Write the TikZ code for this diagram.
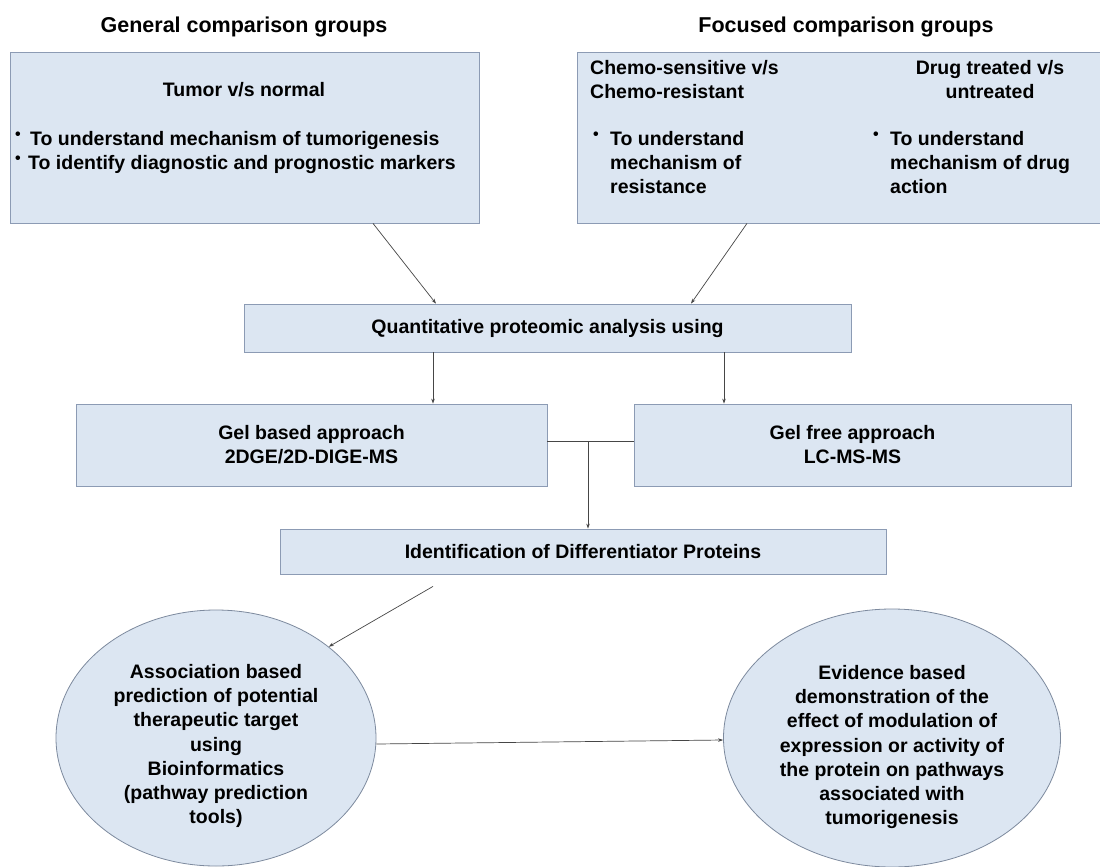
\documentclass[tikz,border=0pt]{standalone}
\usepackage{fontspec}
\setmainfont{Liberation Sans}
\usetikzlibrary{shapes.geometric,arrows.meta,calc}
\definecolor{boxfill}{RGB}{220,230,242}
\definecolor{boxline}{RGB}{140,155,180}
\definecolor{ellline}{RGB}{125,138,158}
\definecolor{lineclr}{RGB}{70,70,70}
\newcommand\mytxt{\fontsize{19.5}{24}\selectfont\bfseries}
\newcommand\myelltxt{\fontsize{19.5}{24.3}\selectfont\bfseries}
\newcommand\mytitle{\fontsize{21.5}{26}\selectfont\bfseries}
\newcommand\mybul[1]{\makebox[#1][l]{\raisebox{6pt}{\fontsize{16}{16}\selectfont •}}}
\tikzset{
  box/.style={rectangle, draw=boxline, fill=boxfill, line width=0.8pt, inner sep=0pt, align=center, font=\mytxt},
  lbl/.style={inner sep=0pt, font=\mytxt},
  elbl/.style={inner sep=0pt, align=center, font=\myelltxt},
  ttl/.style={inner sep=0pt, font=\mytitle},
  ell/.style={ellipse, draw=ellline, fill=boxfill, line width=0.8pt, inner sep=0pt},
  conn/.style={draw=lineclr, line width=0.7pt},
  arr/.style={conn, -{Stealth[length=5pt,width=3.5pt]}},
}
\begin{document}
\begin{tikzpicture}[x=1pt,y=1pt]
\fill[white] (0,0) rectangle (1100,-867);
\useasboundingbox (0,0) rectangle (1100,-867);

% titles
\node[ttl] (t1) at (244,-27) {General comparison groups};
\node[ttl] (t2) at (846,-27) {Focused comparison groups};

% top boxes
\node[box, minimum width=469pt, minimum height=171pt] (tl) at (244.5,-137.5) {};
\node[box, minimum width=525pt, minimum height=171pt] (tr) at (839.5,-137.5) {};

\node[lbl] (tvn) at (244,-90) {Tumor v/s normal};
\node[lbl, anchor=north west, align=left] (tlb) at (15,-131)
  {\mybul{15pt}To understand mechanism of tumorigenesis\\\mybul{13pt}To identify diagnostic and prognostic markers};

\node[lbl, anchor=north west, align=left] (chemo) at (590,-60) {Chemo-sensitive v/s\\Chemo-resistant};
\node[lbl, anchor=north, align=center] (drug) at (990,-60) {Drug treated v/s\\untreated};
\node[lbl, anchor=north west, align=left] (chemob) at (593,-131)
  {\mybul{17pt}To understand\\\hspace*{17pt}mechanism of\\\hspace*{17pt}resistance};
\node[lbl, anchor=north west, align=left] (drugb) at (873,-131)
  {\mybul{17pt}To understand\\\hspace*{17pt}mechanism of drug\\\hspace*{17pt}action};

% middle boxes
\node[box, minimum width=607pt, minimum height=48pt] (quant) at (547.5,-328) {Quantitative proteomic analysis using};
\node[box, minimum width=471pt, minimum height=82pt] (gel) at (311.5,-445) {Gel based approach\\2DGE/2D-DIGE-MS};
\node[box, minimum width=437pt, minimum height=82pt] (gelfree) at (852.5,-445) {Gel free approach\\LC-MS-MS};
\node[box, minimum width=606pt, minimum height=45pt] (ident) at (583,-551.5) {Identification of Differentiator Proteins};

% ellipses
\node[ell, minimum width=320pt, minimum height=256pt] (e1) at (216,-738) {};
\node[elbl] (e1t) at ([yshift=-8pt]e1.center)
  {Association based\\prediction of potential\\therapeutic target\\using\\Bioinformatics\\(pathway prediction\\tools)};
\node[ell, minimum width=337pt, minimum height=258pt] (e2) at (892,-738) {};
\node[elbl] (e2t) at ([yshift=-9pt]e2.center)
  {Evidence based\\demonstration of the\\effect of modulation of\\expression or activity of\\the protein on pathways\\associated with\\tumorigenesis};

% connectors
\draw[arr] ([xshift=128.5pt]tl.south) -- ([xshift=-111.5pt]quant.north);
\draw[arr] ([xshift=-92.5pt]tr.south) -- ([xshift=143.5pt]quant.north);
\draw[arr] ([xshift=-114.5pt]quant.south) -- ([xshift=-114.5pt]quant.south |- gel.north);
\draw[arr] ([xshift=176.5pt]quant.south) -- ([xshift=176.5pt]quant.south |- gelfree.north);
\draw[conn] ([yshift=4pt]gel.east) -- ([yshift=4pt]gelfree.west);
\coordinate (j) at ($([yshift=4pt]gel.east)!0.471!([yshift=4pt]gelfree.west)$);
\draw[arr] (j) -- (j |- ident.north);
\draw[arr] ([xshift=-150pt,yshift=-12pt]ident.south) -- (e1.39);
\draw[arr] ([yshift=-6pt]e1.east) -- ([yshift=-2pt]e2.west);
\end{tikzpicture}
\end{document}
